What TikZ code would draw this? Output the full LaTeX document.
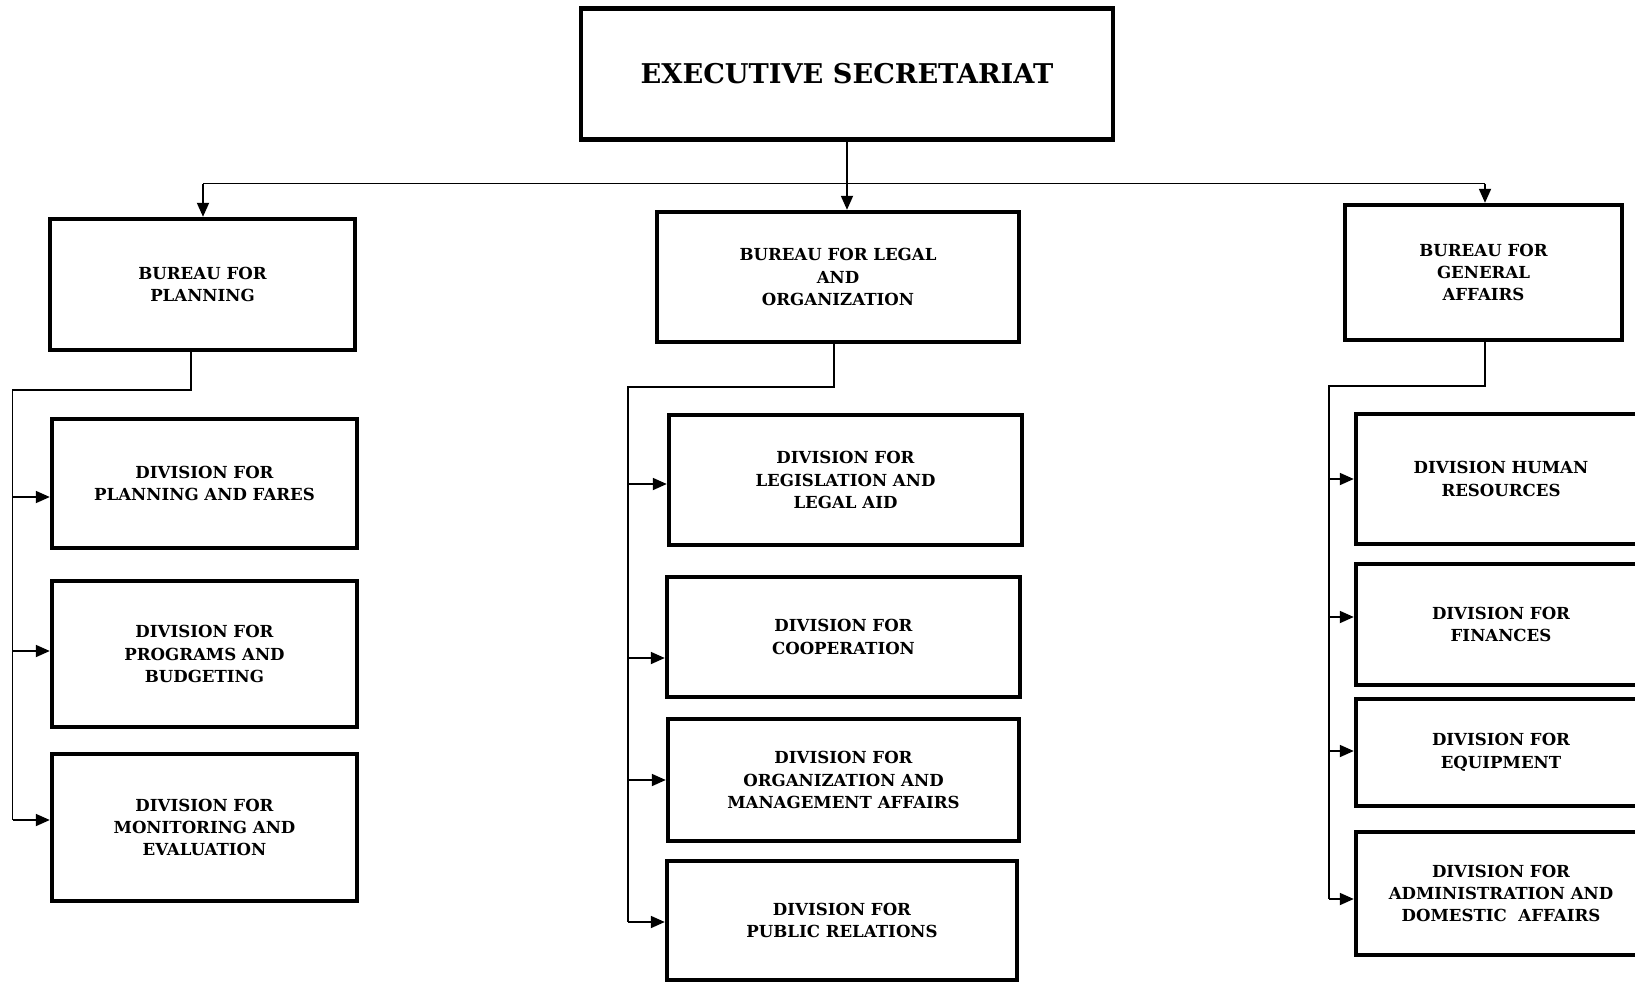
\documentclass[tikz,border=0pt]{standalone}
\usepackage{fontspec}
\setmainfont{DejaVu Serif}
\usepackage{tikz}
\usetikzlibrary{arrows.meta}

\begin{document}
\begin{tikzpicture}[x=0.5pt,y=-0.5pt,
  unit/.style={draw, line width=2.2pt, align=center, inner sep=0pt,
    font=\fontsize{8.3}{11.2}\selectfont\bfseries},
  boxsize/.style 2 args={minimum width=#1*0.5pt, minimum height=#2*0.5pt},
  link/.style={line width=0.9pt},
  arr/.style={link,-{Triangle[length=7pt,width=6pt]}}]
  \useasboundingbox (0,0) rectangle (1635,982);
  % top level
  \node[unit, boxsize={532}{131}, font=\fontsize{13.6}{15}\selectfont\bfseries]
    (exec) at (847,74) {EXECUTIVE SECRETARIAT};
  % bureaus
  \node[unit, boxsize={305}{131}] (plan) at (202.5,284.5) {BUREAU FOR\\PLANNING};
  \node[unit, boxsize={362}{130}] (legal) at (838,277) {BUREAU FOR LEGAL\\AND\\ORGANIZATION};
  \node[unit, boxsize={277}{135}] (gen) at (1483.5,272.5) {BUREAU FOR\\GENERAL\\AFFAIRS};
  % divisions under planning
  \node[unit, boxsize={305}{129}] (dfares) at (204.5,483.5) {DIVISION FOR\\PLANNING AND FARES};
  \node[unit, boxsize={305}{146}] (dbudget) at (204.5,654) {DIVISION FOR\\PROGRAMS AND\\BUDGETING};
  \node[unit, boxsize={305}{147}] (dmonitor) at (204.5,827.5) {DIVISION FOR\\MONITORING AND\\EVALUATION};
  % divisions under legal
  \node[unit, boxsize={353}{130}] (dlegis) at (845.5,480) {DIVISION FOR\\LEGISLATION AND\\LEGAL AID};
  \node[unit, boxsize={353}{120}] (dcoop) at (843.5,637) {DIVISION FOR\\COOPERATION};
  \node[unit, boxsize={351}{122}] (dorg) at (843.5,780) {DIVISION FOR\\ORGANIZATION AND\\MANAGEMENT AFFAIRS};
  \node[unit, boxsize={350}{119}] (dpublic) at (842,920.5) {DIVISION FOR\\PUBLIC RELATIONS};
  % divisions under general affairs
  \node[unit, boxsize={290}{130}] (dhuman) at (1501,479) {DIVISION HUMAN\\RESOURCES};
  \node[unit, boxsize={290}{121}] (dfin) at (1501,624.5) {DIVISION FOR\\FINANCES};
  \node[unit, boxsize={290}{107}] (dequip) at (1501,752.5) {DIVISION FOR\\EQUIPMENT};
  \node[unit, boxsize={290}{123}] (dadmin) at (1501,893.5) {DIVISION FOR\\ADMINISTRATION AND\\DOMESTIC~ AFFAIRS};

  % top bus
  \coordinate (busL) at (203,183.5);
  \coordinate (busR) at (1485,183.5);
  \draw[link] (busL) -- (busR);
  \draw[arr] (busL) -- (busL |- plan.north);
  \draw[arr] (exec.south) -- (exec.south |- legal.north);
  \draw[arr] (busR) -- (busR |- gen.north);

  % planning branch
  \path ([yshift=-6.75pt]dfares.west) coordinate (p1)
        ([yshift=1.5pt]dbudget.west) coordinate (p2)
        ([yshift=3.75pt]dmonitor.west) coordinate (p3);
  \draw[link] ([xshift=-5.75pt]plan.south) |- (12.5,390) coordinate (ptrunk) -- (ptrunk |- p3);
  \foreach \t in {p1,p2,p3}
    \draw[arr] (ptrunk |- \t) -- (\t);

  % legal branch
  \path ([yshift=-2pt]dlegis.west) coordinate (m1)
        ([yshift=-10.5pt]dcoop.west) coordinate (m2)
        (dorg.west) coordinate (m3)
        ([yshift=-0.75pt]dpublic.west) coordinate (m4);
  \draw[link] ([xshift=-2pt]legal.south) |- (628,387) coordinate (mtrunk) -- (mtrunk |- m4);
  \foreach \t in {m1,m2,m3,m4}
    \draw[arr] (mtrunk |- \t) -- (\t);

  % general affairs branch
  \path (dhuman.west) coordinate (g1)
        ([yshift=3.75pt]dfin.west) coordinate (g2)
        ([yshift=0.75pt]dequip.west) coordinate (g3)
        ([yshift=-2.75pt]dadmin.west) coordinate (g4);
  \draw[link] (busR |- gen.south) |- (1329,386) coordinate (gtrunk) -- (gtrunk |- g4);
  \foreach \t in {g1,g2,g3,g4}
    \draw[arr] (gtrunk |- \t) -- (\t);
\end{tikzpicture}
\end{document}
